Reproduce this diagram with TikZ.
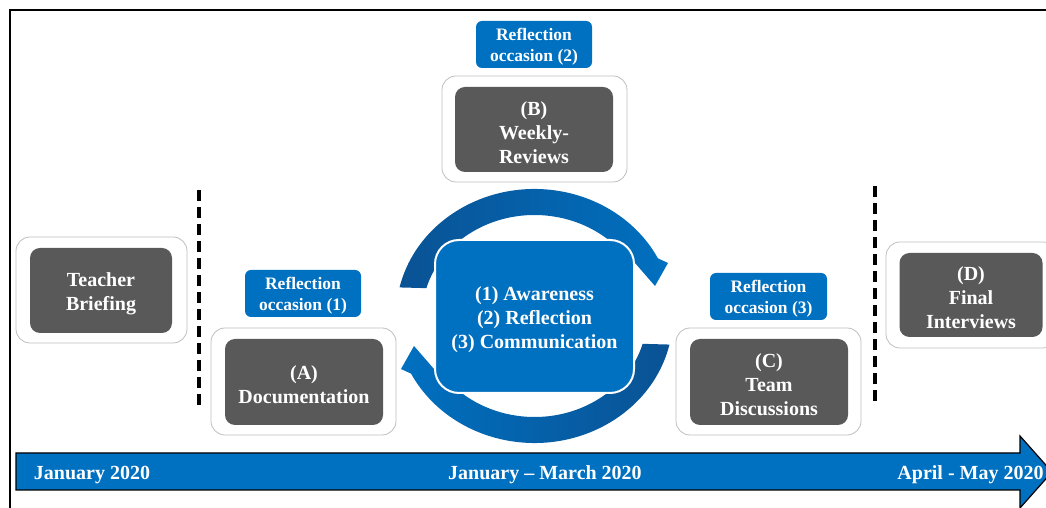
\documentclass[tikz,border=0pt]{standalone}
\usepackage{fontspec}
\setmainfont{Liberation Serif}
\usetikzlibrary{calc}
\definecolor{blu}{HTML}{0070C0}
\definecolor{dblu}{HTML}{0A5294}
\definecolor{gry}{HTML}{595959}
\definecolor{lgry}{HTML}{BFBFBF}
\tikzset{
  outerbox/.style={draw=lgry, fill=white, rounded corners=14pt, line width=0.8pt, inner sep=0pt},
  innerbox/.style={fill=gry, rounded corners=10pt, inner sep=0pt},
  refbox/.style={fill=blu, rounded corners=6pt, inner sep=0pt},
  bigtext/.style={text=white, inner sep=0pt, yshift=-3pt,
    font=\bfseries\fontsize{20}{24}\selectfont, align=center},
  smalltext/.style={text=white, inner sep=0pt, yshift=-2.5pt,
    font=\bfseries\fontsize{17.5}{21}\selectfont, align=center},
  sep/.style={line width=3.5pt, dash pattern=on 11pt off 6pt},
}
\begin{document}
\begin{tikzpicture}[x=1pt,y=1pt]
\useasboundingbox (0,0) rectangle (1046,508);
% frame
\draw[line width=1.8pt] (10,0) -- (10,498) -- (1046,498);

% Teacher briefing
\node[outerbox, minimum width=171pt, minimum height=106pt] (tbo) at (101.5,218) {};
\node[innerbox, minimum width=142pt, minimum height=85pt] (tb) at (101,217.5) {};
\node[bigtext] (tbt) at (tb) {Teacher\\Briefing};

% dashed separators
\coordinate (s1t) at (199,318); \coordinate (s1b) at (199,100);
\draw[sep] (s1t) -- (s1b);
\coordinate (s2t) at (875,322); \coordinate (s2b) at (875,103);
\draw[sep] (s2t) -- (s2b);

% (A)
\node[refbox, minimum width=116pt, minimum height=47pt] (r1) at (303,214.5) {};
\node[smalltext] (r1t) at (r1) {Reflection\\occasion (1)};
\node[outerbox, minimum width=185pt, minimum height=107pt] (ao) at (303.5,126.5) {};
\node[innerbox, minimum width=158pt, minimum height=86pt] (a) at (304,126) {};
\node[bigtext] (at) at (a) {(A)\\Documentation};

% (B)
\node[refbox, minimum width=116pt, minimum height=47pt] (r2) at (534,463.5) {};
\node[smalltext] (r2t) at (r2) {Reflection\\occasion (2)};
\node[outerbox, minimum width=185pt, minimum height=106pt] (bo) at (534.5,379) {};
\node[innerbox, minimum width=158pt, minimum height=85pt] (b) at (534,378.5) {};
\node[bigtext] (bt) at (b) {(B)\\Weekly-\\Reviews};

% circular arrows
\coordinate (C) at (534.5,192);
\shade[left color=dblu, right color=blu]
  ($(C)+(167:138.5pt and 127pt)$) arc[start angle=167, end angle=27, x radius=138.5pt, y radius=127pt]
  -- (668,245) -- (655,222) -- (635,245)
  -- ($(C)+(33:112.5pt and 101pt)$) arc[start angle=33, end angle=164, x radius=112.5pt, y radius=101pt]
  -- cycle;
\shade[left color=blu, right color=dblu]
  ($(C)+(347:138.5pt and 127pt)$) arc[start angle=347, end angle=207, x radius=138.5pt, y radius=127pt]
  -- (401,139) -- (414,162) -- (434,139)
  -- ($(C)+(213:112.5pt and 101pt)$) arc[start angle=213, end angle=344, x radius=112.5pt, y radius=101pt]
  -- cycle;

% centre
\node[fill=blu, draw=white, line width=2pt, rounded corners=24pt, minimum width=199pt, minimum height=153pt, inner sep=0pt]
  (ctr) at (534.5,191.5) {};
\node[bigtext] (ctrt) at (ctr) {(1) Awareness\\(2) Reflection\\(3) Communication};

% (C)
\node[refbox, minimum width=117pt, minimum height=47pt] (r3) at (768.5,211.5) {};
\node[smalltext] (r3t) at (r3) {Reflection\\occasion (3)};
\node[outerbox, minimum width=185pt, minimum height=107pt] (co) at (768.5,126.5) {};
\node[innerbox, minimum width=158pt, minimum height=86pt] (c) at (769,126) {};
\node[bigtext] (ct) at (c) {(C)\\Team\\Discussions};

% (D)
\node[outerbox, minimum width=171pt, minimum height=106pt] (do) at (971.5,213) {};
\node[innerbox, minimum width=143pt, minimum height=84pt] (d) at (971,213) {};
\node[bigtext] (dt) at (d) {(D)\\Final\\Interviews};

% timeline
\draw[fill=blu, line width=1.2pt] (16,18) -- (1020,18) -- (1020,0) -- (1052,36) -- (1020,72) -- (1020,55) -- (16,55) -- cycle;
\node[bigtext] (t1) at (92,36) {January 2020};
\node[bigtext] (t2) at (545,36) {January -- March 2020};
\node[bigtext] (t3) at (970.5,36) {April - May 2020};
\end{tikzpicture}
\end{document}
